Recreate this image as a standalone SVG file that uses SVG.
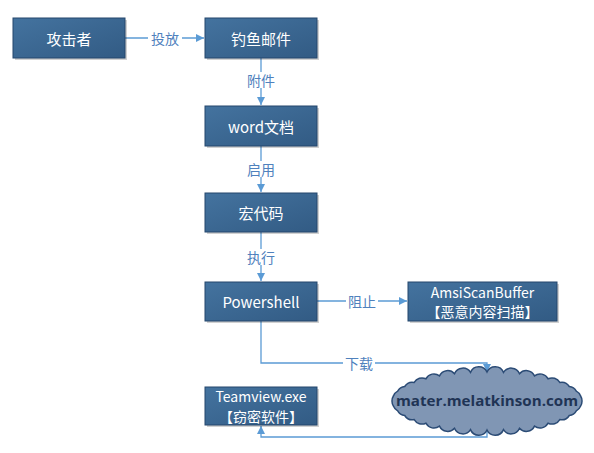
<svg xmlns="http://www.w3.org/2000/svg" width="594" height="453" viewBox="0 0 594 453">
<style>
.box{fill:url(#g);stroke:#24476c;stroke-width:1}
.sh{fill:#000;opacity:0.18}
.t{font-family:"Noto Sans CJK SC","Microsoft YaHei",sans-serif;font-size:15px;fill:#fff;text-anchor:middle;dominant-baseline:central}
.t2{font-family:"Noto Sans CJK SC","Microsoft YaHei",sans-serif;font-size:14px;fill:#fff;text-anchor:middle;dominant-baseline:central}
.lbl{font-family:"Noto Sans CJK SC",sans-serif;font-size:14px;fill:#4f81bd;text-anchor:middle;dominant-baseline:central}
.ln{fill:none;stroke:#5b9bd5;stroke-width:1.3}
.bg{fill:#fff}
</style>
<defs>
<linearGradient id="g" x1="0" y1="0" x2="1" y2="1">
<stop offset="0" stop-color="#44739f"/>
<stop offset="1" stop-color="#325b84"/>
</linearGradient>
<marker id="a" viewBox="0 0 10 10" refX="10" refY="5" markerWidth="8" markerHeight="8" markerUnits="userSpaceOnUse" orient="auto">
<path d="M0,0 L10,5 L0,10 z" fill="#5b9bd5"/>
</marker>
</defs>
<g id="connectors">
<path class="ln" d="M125,38 H204" marker-end="url(#a)"/>
<rect class="bg" x="148" y="30" width="34" height="16"/>
<text class="lbl" x="165" y="38">投放</text>
<path class="ln" d="M261,58 V105" marker-end="url(#a)"/>
<rect class="bg" x="245" y="72" width="32" height="16"/>
<text class="lbl" x="261" y="80">附件</text>
<path class="ln" d="M261,146 V192" marker-end="url(#a)"/>
<rect class="bg" x="245" y="161" width="32" height="16"/>
<text class="lbl" x="261" y="169">启用</text>
<path class="ln" d="M261,232 V281" marker-end="url(#a)"/>
<rect class="bg" x="245" y="249" width="32" height="16"/>
<text class="lbl" x="261" y="257">执行</text>
<path class="ln" d="M317,301 H407" marker-end="url(#a)"/>
<rect class="bg" x="346" y="293" width="32" height="16"/>
<text class="lbl" x="362" y="301">阻止</text>
<path class="ln" d="M261,321 V363 H487 V372" marker-end="url(#a)"/>
<rect class="bg" x="343" y="355" width="32" height="16"/>
<text class="lbl" x="359" y="363">下载</text>
<path class="ln" d="M487,430 V437 H261 V426" marker-end="url(#a)"/>
</g>
<g id="n1">
<rect class="sh" x="15" y="20" width="112" height="40"/>
<rect class="box" x="13" y="18" width="112" height="40"/>
<text class="t" x="69" y="38">攻击者</text>
</g>
<g id="n2">
<rect class="sh" x="207" y="20" width="112" height="40"/>
<rect class="box" x="205" y="18" width="112" height="40"/>
<text class="t" x="261" y="38">钓鱼邮件</text>
</g>
<g id="n3">
<rect class="sh" x="207" y="108" width="112" height="40"/>
<rect class="box" x="205" y="106" width="112" height="40"/>
<text class="t" x="261" y="126">word文档</text>
</g>
<g id="n4">
<rect class="sh" x="207" y="195" width="112" height="39"/>
<rect class="box" x="205" y="193" width="112" height="39"/>
<text class="t" x="261" y="212.5">宏代码</text>
</g>
<g id="n5">
<rect class="sh" x="207" y="284" width="112" height="39"/>
<rect class="box" x="205" y="282" width="112" height="39"/>
<text class="t" x="261" y="301">Powershell</text>
</g>
<g id="n6">
<rect class="sh" x="410" y="284" width="149" height="39"/>
<rect class="box" x="408" y="282" width="149" height="39"/>
<text class="t2" x="482.5" y="291.5">AmsiScanBuffer</text>
<text class="t2" x="482.5" y="310.5">【恶意内容扫描】</text>
</g>
<g id="n7">
<rect class="sh" x="207" y="389" width="112" height="38"/>
<rect class="box" x="205" y="387" width="112" height="38"/>
<text class="t2" x="261" y="396">Teamview.exe</text>
<text class="t2" x="261" y="415.5">【窃密软件】</text>
</g>
<g id="n8">
<path fill="#8096b4" stroke="#2c4c76" stroke-width="1.5" d="M582,401 A9,9 0 0 1 580.6,406 A9,9 0 0 1 576.3,410.9 A9,9 0 0 1 569.3,415.5 A9,9 0 0 1 559.8,419.6 A9,9 0 0 1 548.1,423.2 A9,9 0 0 1 534.5,426.1 A9,9 0 0 1 519.5,428.3 A9,9 0 0 1 503.5,429.6 A9,9 0 0 1 487,430 A9,9 0 0 1 470.5,429.6 A9,9 0 0 1 454.5,428.3 A9,9 0 0 1 439.5,426.1 A9,9 0 0 1 425.9,423.2 A9,9 0 0 1 414.2,419.6 A9,9 0 0 1 404.7,415.5 A9,9 0 0 1 397.7,410.9 A9,9 0 0 1 393.4,406 A9,9 0 0 1 392,401 A9,9 0 0 1 393.4,396 A9,9 0 0 1 397.7,391.1 A9,9 0 0 1 404.7,386.5 A9,9 0 0 1 414.2,382.4 A9,9 0 0 1 425.9,378.8 A9,9 0 0 1 439.5,375.9 A9,9 0 0 1 454.5,373.7 A9,9 0 0 1 470.5,372.4 A9,9 0 0 1 487,372 A9,9 0 0 1 503.5,372.4 A9,9 0 0 1 519.5,373.7 A9,9 0 0 1 534.5,375.9 A9,9 0 0 1 548.1,378.8 A9,9 0 0 1 559.8,382.4 A9,9 0 0 1 569.3,386.5 A9,9 0 0 1 576.3,391.1 A9,9 0 0 1 580.6,396 A9,9 0 0 1 582,401 Z"/>
<text x="487" y="400" font-family="'Open Sans','Noto Sans',sans-serif" font-size="15" font-weight="bold" fill="#1f3455" text-anchor="middle" dominant-baseline="central" textLength="182" lengthAdjust="spacingAndGlyphs">mater.melatkinson.com</text>
</g>
</svg>
